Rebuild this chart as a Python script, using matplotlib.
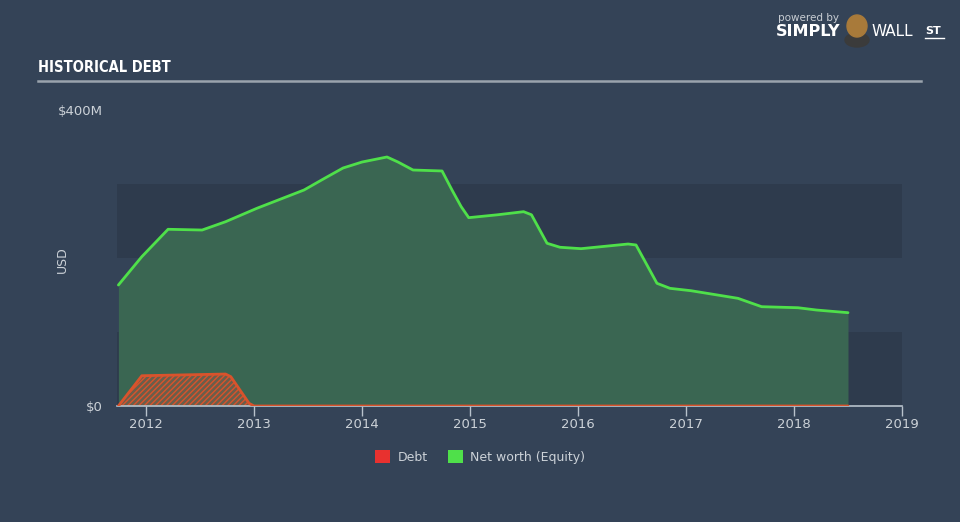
import matplotlib
matplotlib.use("Agg")
import matplotlib.pyplot as plt
from matplotlib.patches import Patch, Ellipse
from matplotlib.lines import Line2D

# ---- data (USD millions) ----
equity_dates = [2011.744, 2011.961, 2012.204, 2012.519, 2012.736, 2013.027, 2013.463,
                2013.657, 2013.824, 2014.0, 2014.231, 2014.333, 2014.472, 2014.741,
                2014.833, 2014.917, 2014.988, 2015.255, 2015.496, 2015.569, 2015.713,
                2015.833, 2016.028, 2016.463, 2016.537, 2016.731, 2016.852, 2017.046,
                2017.481, 2017.7, 2018.037, 2018.208, 2018.5]
equity_values = [163.5, 201.8, 238.8, 237.8, 249.0, 267.2, 291.9, 308.0, 321.6, 329.7,
                 336.5, 329.7, 318.9, 317.6, 291.9, 269.6, 254.5, 258.4, 262.6, 258.4,
                 219.9, 214.5, 212.6, 218.9, 217.6, 165.8, 159.0, 155.8, 145.5, 134.2,
                 132.8, 129.7, 126.1]
debt_dates = [2011.744, 2011.961, 2012.736, 2012.785, 2012.954, 2013.0, 2018.5]
debt_values = [0.0, 40.9, 43.2, 39.6, 3.6, 0.0, 0.0]
year_ticks = [2012, 2013, 2014, 2015, 2016, 2017, 2018, 2019]
y_tick_values = [0, 400]
y_tick_labels = ["$0", "$400M"]

BG = "#344357"
BAND = "#2e3b4d"
GREEN = "#4fe04a"
FILL = "#3a6652"
DEBT_LINE = "#d9532c"
TXT = "#ccd2d8"

fig = plt.figure(figsize=(9.6, 5.22), dpi=100, facecolor=BG)
W, H = 960, 522
ax = fig.add_axes([117 / W, 1 - 406 / H, (902 - 117) / W, (406 - 110) / H])
ax.set_facecolor(BG)
ax.set_xlim(2011.731, 2019.0)
ax.set_ylim(0, 400)

# background bands
ax.axhspan(0, 100, color=BAND, zorder=0, lw=0)
ax.axhspan(200, 300, color=BAND, zorder=0, lw=0)

# equity
ax.fill_between(equity_dates, equity_values, 0, color=FILL, lw=0, zorder=1)
ax.plot(equity_dates, equity_values, color=GREEN, lw=2, zorder=3,
        solid_joinstyle="round", solid_capstyle="round")

# debt
ax.fill_between(debt_dates, debt_values, 0, facecolor="#6b5e4a", edgecolor=DEBT_LINE,
                hatch="//////", lw=0, zorder=2)
ax.plot(debt_dates, debt_values, color=DEBT_LINE, lw=2, zorder=4,
        solid_joinstyle="round", solid_capstyle="round")

for s in ["top", "right", "left"]:
    ax.spines[s].set_visible(False)
ax.spines["bottom"].set_color("#b8c2cc")
ax.spines["bottom"].set_linewidth(1.2)
ax.set_xticks(year_ticks)
ax.set_xticklabels([str(y) for y in year_ticks])
ax.tick_params(axis="x", colors="#b8c2cc", length=7, width=1, labelsize=9.5,
               labelcolor=TXT, pad=2)
ax.set_yticks(y_tick_values)
ax.set_yticklabels(y_tick_labels)
ax.tick_params(axis="y", length=0, labelsize=9.5, labelcolor=TXT, pad=10)
ax.set_ylabel("")
fig.text(62 / W, 1 - 260 / H, "USD", color=TXT, fontsize=9, rotation=90,
         ha="center", va="center")

# title + rule
fig.text(38 / W, 1 - 68 / H, "HISTORICAL DEBT", color="white", fontsize=10.5,
         fontweight="bold", family="DejaVu Sans", fontstretch="condensed",
         va="center", ha="left")
fig.add_artist(Line2D([38 / W, 921 / W], [1 - 81 / H, 1 - 81 / H], color="#9aa3ad", lw=1.8))

# logo
fig.text(778 / W, 1 - 18 / H, "powered by", color="#c8cdd3", fontsize=7.5, va="center")
fig.text(776 / W, 1 - 32 / H, "SIMPLY", color="white", fontsize=11.5, fontweight="bold", va="center")
fig.text(872 / W, 1 - 32 / H, "WALL", color="white", fontsize=11, va="center")
fig.text(925 / W, 1 - 31 / H, "ST", color="white", fontsize=8, fontweight="bold", va="center")
fig.add_artist(Line2D([925 / W, 944 / W], [1 - 38 / H, 1 - 38 / H], color="white", lw=1))
fig.add_artist(Ellipse((857 / W, 1 - 40 / H), 24 / W, 14 / H, color="#3b3b3b"))
fig.add_artist(Ellipse((857 / W, 1 - 26 / H), 20 / W, 22 / H, color="#a87a3a"))

# legend
handles = [Patch(facecolor="#e8312f", edgecolor="none", label="Debt"),
           Patch(facecolor=GREEN, edgecolor="none", label="Net worth (Equity)")]
leg = fig.legend(handles=handles, loc="center", bbox_to_anchor=(0.5, 1 - 457 / H),
                 ncol=2, frameon=False, fontsize=9, handlelength=1.2, handleheight=1.2,
                 columnspacing=1.6, handletextpad=0.6)
for t in leg.get_texts():
    t.set_color(TXT)

fig.savefig("out.png", dpi=100, facecolor=BG)
